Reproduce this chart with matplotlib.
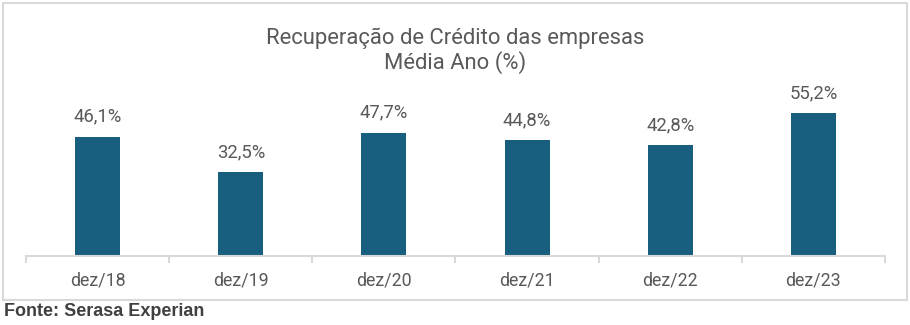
import matplotlib
matplotlib.use("Agg")
import matplotlib.pyplot as plt
from matplotlib.patches import Rectangle

categories = ["dez/18", "dez/19", "dez/20", "dez/21", "dez/22", "dez/23"]
values = [46.1, 32.5, 47.7, 44.8, 42.8, 55.2]
labels = ["46,1%", "32,5%", "47,7%", "44,8%", "42,8%", "55,2%"]

plt.rcParams["font.family"] = ["Roboto", "DejaVu Sans"]
TXT = "#595959"
BAR = "#175e7f"

fig = plt.figure(figsize=(9.1, 3.25), dpi=100)
fig.patches.append(Rectangle((3 / 910, 1 - 300 / 325), 904 / 910, 297 / 325,
                             transform=fig.transFigure, fill=False,
                             edgecolor="#d9d9d9", lw=1.5))

# axes: x 26..885 px, baseline at y=256 px, 2.585 px per unit
ax = fig.add_axes([26 / 910, 69 / 325, 859 / 910, 155.1 / 325])
x = range(len(categories))
ax.bar(x, values, width=0.315, color=BAR, zorder=2)
ax.set_xlim(-0.5, len(categories) - 0.5)
ax.set_ylim(0, 60)

for xi, v, lab in zip(x, values, labels):
    ax.text(xi, v + 4.3, lab, ha="center", va="bottom", fontsize=13.3,
            color=TXT, clip_on=False)

for s in ["top", "right", "left"]:
    ax.spines[s].set_visible(False)
ax.spines["bottom"].set_color("#d9d9d9")
ax.spines["bottom"].set_linewidth(1.5)
ax.set_yticks([])
ax.set_xticks([i - 0.5 for i in range(len(categories) + 1)])
ax.set_xticklabels([])
ax.set_xticks(list(x), minor=True)
ax.set_xticklabels(categories, minor=True, fontsize=12.8, color=TXT)
ax.tick_params(axis="x", which="major", length=5, width=1.5, color="#d9d9d9")
ax.tick_params(axis="x", which="minor", length=0, pad=11)

fig.text(0.5, 1 - 38 / 325, "Recuperação de Crédito das empresas",
         ha="center", va="center", fontsize=15.8, color=TXT)
fig.text(0.5, 1 - 63 / 325, "Média Ano (%)",
         ha="center", va="center", fontsize=15.8, color=TXT)
fig.text(4 / 910, 1 - 312 / 325, "Fonte: Serasa Experian", ha="left", va="center",
         fontsize=13, fontweight="bold", color="#404040",
         family=["Liberation Sans", "DejaVu Sans"])

fig.savefig("out.png", dpi=100)
